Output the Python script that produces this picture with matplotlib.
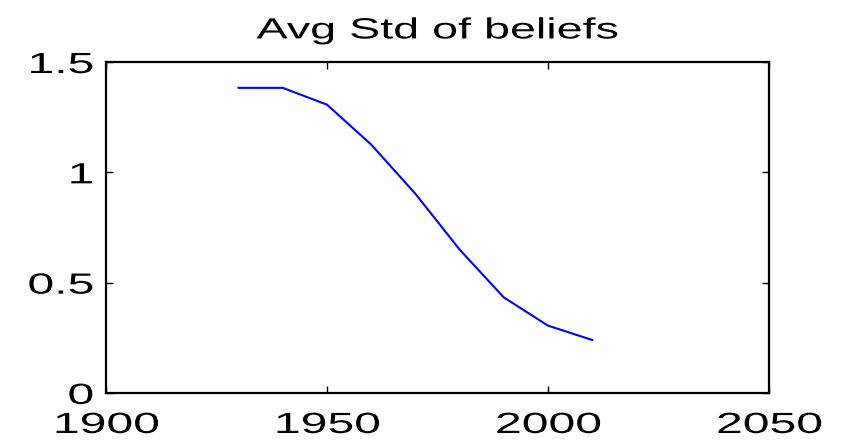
import numpy as np
import matplotlib
matplotlib.use("Agg")
from matplotlib import pyplot as plt
from matplotlib.ticker import FuncFormatter
from matplotlib.patheffects import AbstractPathEffect
from matplotlib.transforms import Affine2D

# decade averages of belief spread
years = [1930, 1940, 1950, 1960, 1970, 1980, 1990, 2000, 2010]
avg_std = [1.383, 1.383, 1.307, 1.126, 0.903, 0.650, 0.433, 0.305, 0.240]

x_ticks = [1900, 1950, 2000, 2050]
y_ticks = [0, 0.5, 1, 1.5]


class Stretch(AbstractPathEffect):
    """Widen glyphs horizontally, keeping the text anchored."""
    def __init__(self, sx, anchor='center'):
        super().__init__()
        self.sx = sx
        self.anchor = anchor

    def draw_path(self, renderer, gc, tpath, affine, rgbFace=None):
        xs = tpath.vertices[:, 0]
        if len(xs) == 0:
            return renderer.draw_path(gc, tpath, affine, rgbFace)
        if self.anchor == 'right':
            x0 = xs.max()
        else:
            x0 = 0.5 * (xs.min() + xs.max())
        st = Affine2D().translate(-x0, 0).scale(self.sx, 1).translate(x0, 0)
        renderer.draw_path(gc, tpath, st + affine, rgbFace)


plt.rcParams['font.family'] = ['Liberation Sans', 'DejaVu Sans']

fig = plt.figure(figsize=(8.47, 4.4), dpi=100)
ax = fig.add_axes([0.125, 0.107, 0.783, 0.752])

ax.plot(years, avg_std, color=(0, 0, 1), linewidth=1.5)

ax.set_xlim(1900, 2050)
ax.set_ylim(0, 1.5)
ax.set_xticks(x_ticks)
ax.set_yticks(y_ticks)
ax.yaxis.set_major_formatter(FuncFormatter(lambda v, p: ('%g' % v)))
ax.tick_params(direction='in', length=5, width=1, labelsize=21,
               top=True, right=True)
ax.tick_params(axis='x', pad=13)
ax.tick_params(axis='y', pad=9)
for s in ax.spines.values():
    s.set_linewidth(1.6)

for lab in ax.get_xticklabels():
    lab.set_path_effects([Stretch(1.65)])
for lab in ax.get_yticklabels():
    lab.set_path_effects([Stretch(1.65, anchor='right')])

ax.set_title("Avg Std of beliefs", fontsize=21, pad=17,
             path_effects=[Stretch(1.6)])

fig.savefig("out.png", dpi=100)
